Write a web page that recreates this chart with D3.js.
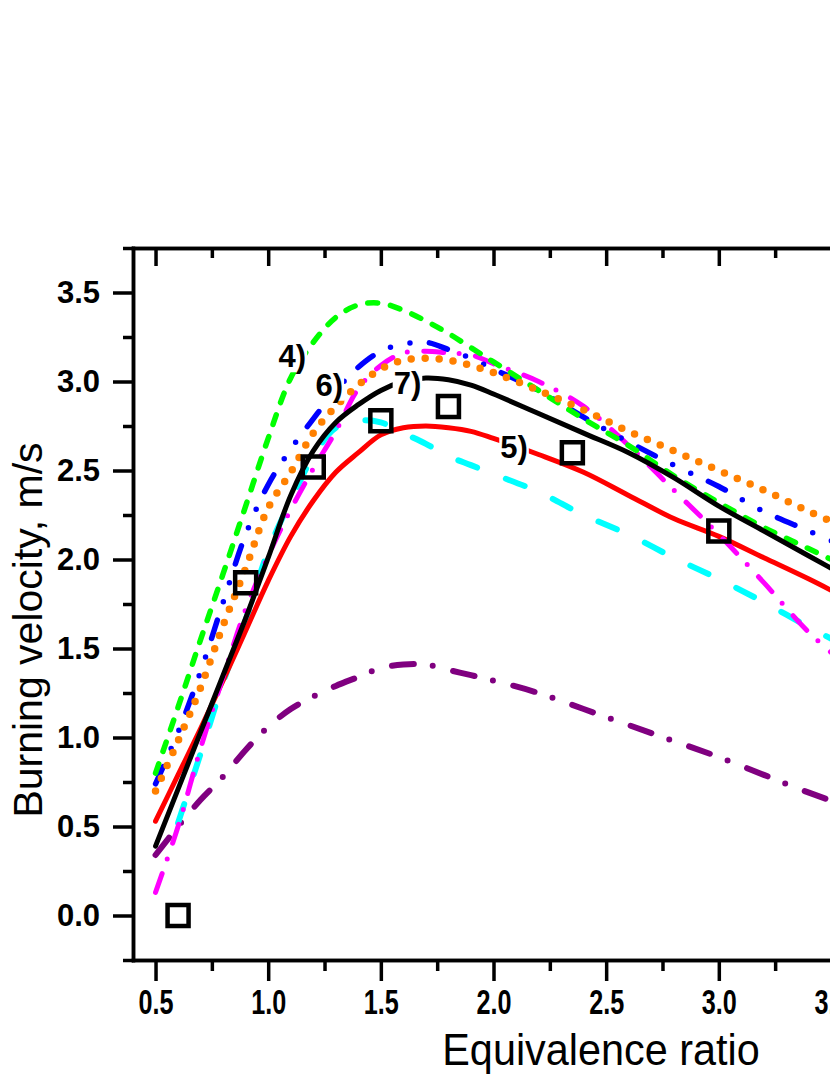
<html>
<head>
<meta charset="utf-8">
<title>Burning velocity vs equivalence ratio</title>
<script src="https://d3js.org/d3.v7.min.js"></script>
<style>
  body { margin: 0; background: #fff; }
  text { font-family: "Liberation Sans", Arial, sans-serif; fill: #000; }
</style>
</head>
<body>
<svg width="830" height="1075"></svg>
<script>
// equivalence ratio grid shared by the model curves
var phi = [0.5, 0.6, 0.7, 0.8, 0.9, 1.0, 1.1, 1.2, 1.3, 1.4, 1.5, 1.6, 1.7, 1.8, 1.9, 2.0, 2.2, 2.4, 2.6, 2.8, 3.0, 3.2, 3.4, 3.6];

// burning velocity, m/s, one array per curve
var suGreen   = [0.80, 1.17, 1.55, 1.92, 2.30, 2.68, 3.02, 3.22, 3.36, 3.43, 3.44, 3.40, 3.34, 3.27, 3.19, 3.11, 2.95, 2.79, 2.64, 2.47, 2.32, 2.18, 2.06, 1.94];
var suBlue    = [0.74, 1.03, 1.37, 1.76, 2.14, 2.42, 2.62, 2.79, 2.95, 3.08, 3.17, 3.21, 3.22, 3.18, 3.13, 3.07, 2.95, 2.80, 2.66, 2.53, 2.41, 2.27, 2.16, 2.05];
var suOrange  = [0.70, 0.98, 1.28, 1.63, 1.95, 2.29, 2.49, 2.71, 2.86, 2.98, 3.07, 3.12, 3.13, 3.12, 3.09, 3.05, 2.95, 2.84, 2.72, 2.61, 2.50, 2.39, 2.27, 2.16];
var suMagenta = [0.13, 0.50, 0.94, 1.34, 1.72, 2.02, 2.28, 2.51, 2.72, 2.96, 3.09, 3.16, 3.17, 3.16, 3.15, 3.10, 3.00, 2.86, 2.64, 2.39, 2.14, 1.87, 1.59, 1.37];
var suBlack   = [0.39, 0.71, 1.03, 1.35, 1.67, 2.01, 2.36, 2.61, 2.77, 2.87, 2.95, 3.00, 3.02, 3.01, 2.98, 2.93, 2.82, 2.71, 2.60, 2.46, 2.30, 2.16, 2.02, 1.88];
var suRed     = [0.53, 0.79, 1.05, 1.32, 1.60, 1.88, 2.13, 2.33, 2.49, 2.60, 2.70, 2.74, 2.75, 2.74, 2.72, 2.68, 2.59, 2.49, 2.36, 2.23, 2.13, 2.01, 1.89, 1.76];
var suCyan    = [null, 0.52, 0.91, 1.31, 1.66, 2.05, 2.33, 2.58, 2.74, 2.78, 2.77, 2.71, 2.65, 2.58, 2.53, 2.48, 2.38, 2.25, 2.14, 2.01, 1.89, 1.76, 1.62, 1.49];
var suPurple  = [0.34, 0.50, 0.65, 0.78, 0.93, 1.06, 1.16, 1.23, 1.29, 1.34, 1.39, 1.41, 1.41, 1.38, 1.35, 1.32, 1.25, 1.16, 1.07, 0.98, 0.89, 0.79, 0.69, 0.60];

// experiment (open squares)
var expPhi = [0.6, 0.9, 1.2, 1.5, 1.8, 2.35, 3.0];
var expSu  = [0.0, 1.87, 2.52, 2.78, 2.86, 2.60, 2.16];

// curve labels, anchored in data units
var labelText = ["4)", "6)", "7)", "5)"];
var labelPhi  = [1.046, 1.21, 1.557, 2.03];
var labelSu   = [3.08, 2.92, 2.93, 2.57];

// axis ticks
var xTicks = [0.5, 1.0, 1.5, 2.0, 2.5, 3.0, 3.5];
var xMinor = [0.75, 1.25, 1.75, 2.25, 2.75, 3.25];
var yTicks = [0.0, 0.5, 1.0, 1.5, 2.0, 2.5, 3.0, 3.5];
var yMinor = [-0.25, 0.25, 0.75, 1.25, 1.75, 2.25, 2.75, 3.25, 3.75];

var svg = d3.select("svg");
var x = d3.scaleLinear().domain([0.4, 3.6]).range([133, 854]);
var y = d3.scaleLinear().domain([-0.25, 3.75]).range([960, 248]);

var series = [
  {v: suPurple,  color: "#800080", w: 6,   dash: "22,19,0,21"},
  {v: suCyan,    color: "#00ffff", w: 6,   dash: "20,31"},
  {v: suRed,     color: "#ff0000", w: 5,   dash: null},
  {v: suMagenta, color: "#ff00ff", w: 5,   dash: "20,15.5,0,16.5"},
  {v: suBlue,    color: "#0000ff", w: 5.5, dash: "19,19.5,0,20,0,19.5"},
  {v: suGreen,   color: "#00ff00", w: 5.5, dash: "10,13"},
  {v: suOrange,  color: "#ff8000", w: 7.5, dash: "0,14"},
  {v: suBlack,   color: "#000000", w: 5,   dash: null}
];

var line = d3.line()
  .defined(d => d[1] != null)
  .x(d => x(d[0]))
  .y(d => y(d[1]))
  .curve(d3.curveCatmullRom.alpha(0.5));

var curves = svg.append("g");
series.forEach(function(s) {
  curves.append("path")
    .datum(phi.map((p, i) => [p, s.v[i]]))
    .attr("d", line)
    .attr("fill", "none")
    .attr("stroke", s.color)
    .attr("stroke-width", s.w)
    .attr("stroke-linecap", "round")
    .attr("stroke-dasharray", s.dash);
});

// experimental squares
svg.append("g").selectAll("path")
  .data(expPhi.map((p, i) => [p, expSu[i]]))
  .enter().append("path")
    .attr("d", d3.symbol(d3.symbolSquare, 441))
    .attr("transform", d => `translate(${x(d[0])},${y(d[1])})`)
    .attr("fill", "none")
    .attr("stroke", "#000")
    .attr("stroke-width", 4.5);

// curve labels with white boxes
var labels = svg.append("g");
labelText.forEach(function(t, i) {
  var lg = labels.append("g");
  var tx = lg.append("text")
    .attr("x", x(labelPhi[i]))
    .attr("y", y(labelSu[i]))
    .style("font-size", "31px")
    .style("font-weight", "bold")
    .text(t);
  var bb = tx.node().getBBox();
  lg.insert("rect", "text")
    .attr("x", bb.x - 1).attr("y", bb.y + 2)
    .attr("width", bb.width + 2).attr("height", bb.height - 4)
    .attr("fill", "#fff");
});

// axes
function styleAxis(g) {
  g.selectAll(".domain").attr("stroke-width", 3.5).attr("stroke-linecap", "square");
  g.selectAll(".tick line").attr("stroke-width", 3.5);
  g.selectAll(".tick text")
    .style("font-size", "31px")
    .style("font-weight", "bold")
    .style("font-family", "'Liberation Sans', Arial, sans-serif");
}

var fmt = d3.format(".1f");

svg.append("g").attr("transform", "translate(133,0)")
  .call(d3.axisLeft(y).tickValues(yTicks).tickSize(20).tickSizeOuter(0).tickPadding(13).tickFormat(fmt))
  .call(styleAxis);
svg.append("g").attr("transform", "translate(133,0)")
  .call(d3.axisLeft(y).tickValues(yMinor).tickSize(10).tickSizeOuter(0).tickFormat(""))
  .call(styleAxis);

svg.append("g").attr("transform", "translate(854,0)")
  .call(d3.axisLeft(y).tickValues(yTicks).tickSize(18).tickSizeOuter(0).tickFormat(""))
  .call(styleAxis);

// bottom axis: labels are drawn narrow and tall
svg.append("g").attr("transform", "translate(0,960)")
  .call(d3.axisBottom(x).tickValues(xTicks).tickSize(21).tickSizeOuter(0).tickPadding(7).tickFormat(fmt))
  .call(styleAxis)
  .call(g => g.selectAll(".tick text")
    .style("font-size", "36px")
    .attr("transform", "scale(0.7,1)"));
svg.append("g").attr("transform", "translate(0,960)")
  .call(d3.axisBottom(x).tickValues(xMinor).tickSize(11).tickSizeOuter(0).tickFormat(""))
  .call(styleAxis);

svg.append("g").attr("transform", "translate(0,248)")
  .call(d3.axisBottom(x).tickValues(xTicks).tickSize(18).tickSizeOuter(0).tickFormat(""))
  .call(styleAxis);
svg.append("g").attr("transform", "translate(0,248)")
  .call(d3.axisBottom(x).tickValues(xMinor).tickSize(10).tickSizeOuter(0).tickFormat(""))
  .call(styleAxis);

// axis titles
svg.append("text")
  .attr("transform", "translate(601,1065) scale(0.92,1)")
  .attr("text-anchor", "middle")
  .style("font-size", "45px")
  .text("Equivalence ratio");

svg.append("text")
  .attr("transform", "translate(42,630) rotate(-90)")
  .attr("text-anchor", "middle")
  .style("font-size", "41px")
  .text("Burning velocity, m/s");
</script>
</body>
</html>
